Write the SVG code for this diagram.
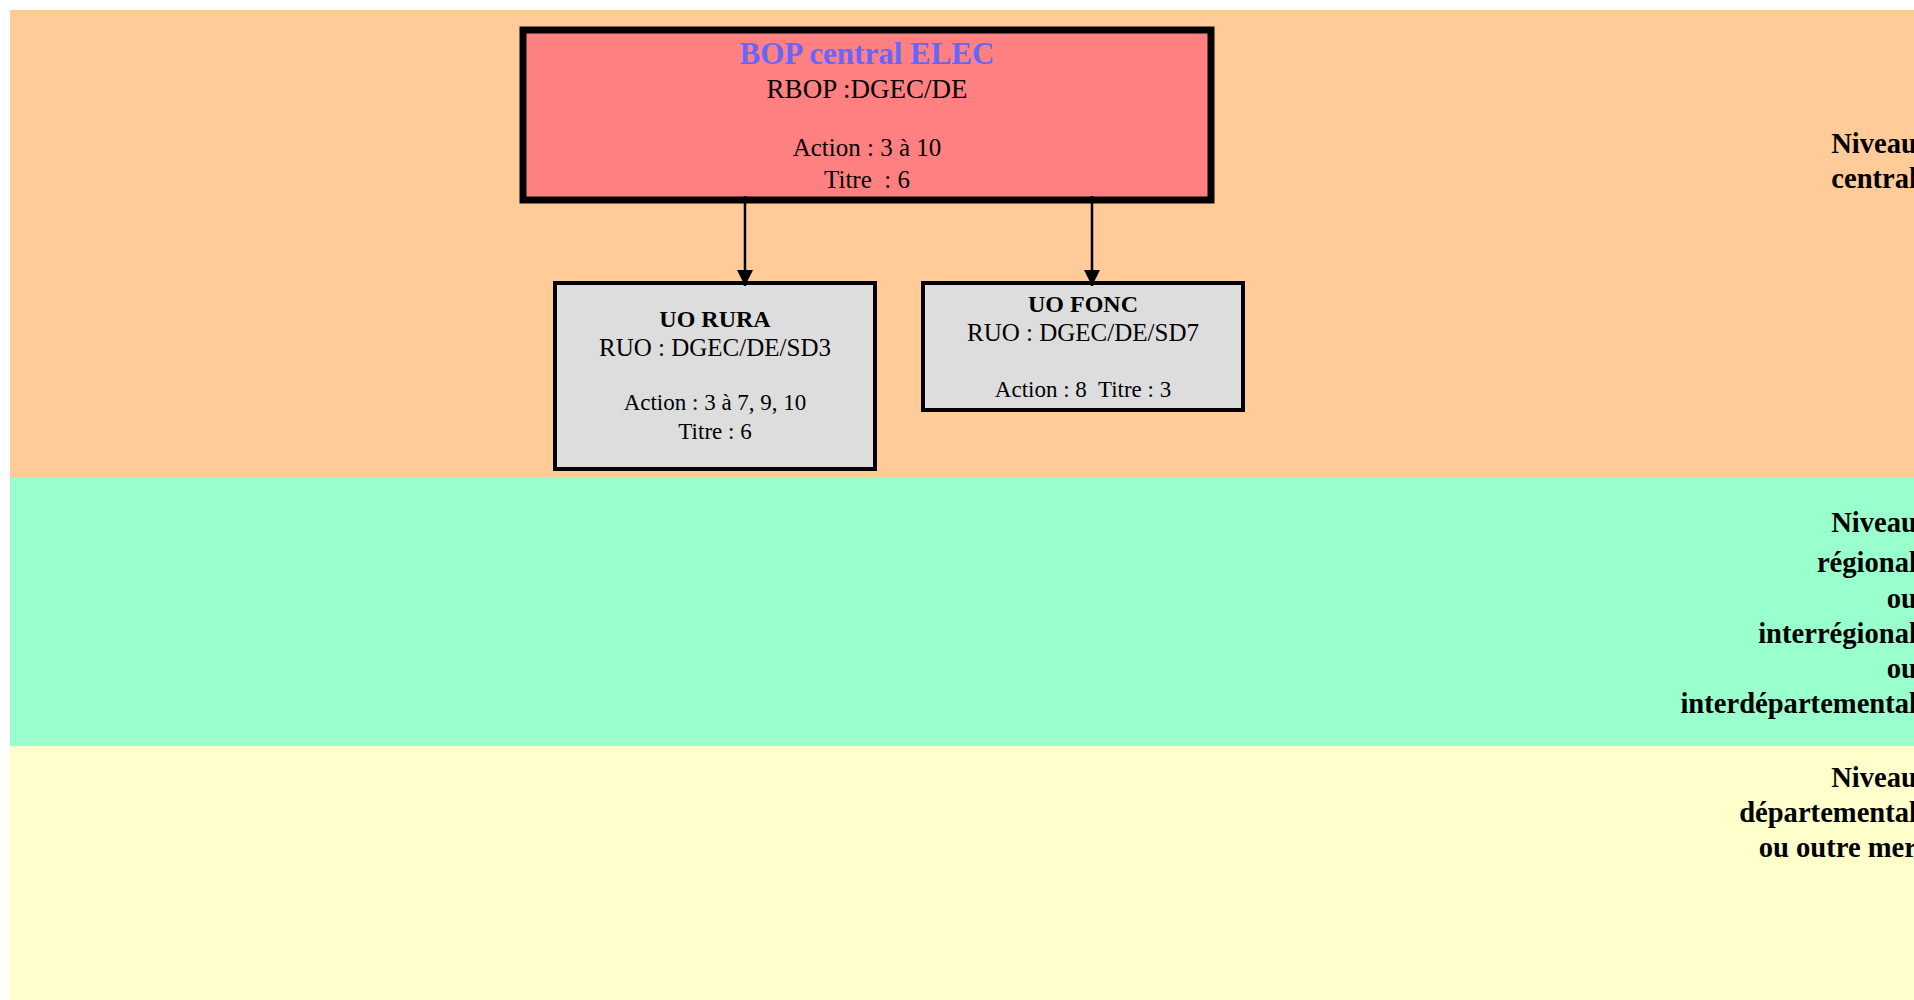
<svg xmlns="http://www.w3.org/2000/svg" width="1914" height="1000" viewBox="0 0 1914 1000">
<style>
  .t { font-family: "Liberation Serif", "Times New Roman", serif; fill: #000; text-anchor: middle; white-space: pre; }
  .b { font-weight: bold; }
  .lvl { font-family: "Liberation Serif", "Times New Roman", serif; font-weight: bold; font-size: 28.6px; fill: #000; text-anchor: end; }
  .box { fill: #DDDDDD; stroke: #000; stroke-width: 4; }
  .conn { stroke: #000; stroke-width: 2.5; fill: none; marker-end: url(#arr); }
</style>
<defs>
  <marker id="arr" viewBox="0 0 10 10" refX="10" refY="5" markerUnits="userSpaceOnUse" markerWidth="16" markerHeight="16" orient="auto">
    <path d="M0,0 L10,5 L0,10 Z" fill="#000"/>
  </marker>
</defs>
<rect width="1914" height="1000" fill="#FFFFFF"/>
<g id="bands">
  <rect x="10" y="10" width="1904" height="468" fill="#FFCC99"/>
  <rect x="10" y="478" width="1904" height="268" fill="#99FFCC"/>
  <rect x="10" y="746" width="1904" height="254" fill="#FFFFCC"/>
</g>
<g id="level-central">
  <text class="lvl" x="1917" y="153">Niveau</text>
  <text class="lvl" x="1917" y="188">central</text>
</g>
<g id="level-regional">
  <text class="lvl" x="1917" y="532">Niveau</text>
  <text class="lvl" x="1917" y="572">régional</text>
  <text class="lvl" x="1917" y="608">ou</text>
  <text class="lvl" x="1917" y="643">interrégional</text>
  <text class="lvl" x="1917" y="678">ou</text>
  <text class="lvl" x="1917" y="713">interdépartemental</text>
</g>
<g id="level-departemental">
  <text class="lvl" x="1917" y="787">Niveau</text>
  <text class="lvl" x="1917" y="822">départemental</text>
  <text class="lvl" x="1917" y="857">ou outre mer</text>
</g>
<g id="bop-central">
  <rect x="523" y="30" width="688" height="170" fill="#FF8080" stroke="#000" stroke-width="7"/>
  <text class="t b" x="867" y="64" font-size="31" style="fill:#6666FF">BOP central ELEC</text>
  <text class="t" x="867" y="98" font-size="27">RBOP :DGEC/DE</text>
  <text class="t" x="867" y="156" font-size="25">Action : 3 à 10</text>
  <text class="t" x="867" y="188" font-size="25">Titre  : 6</text>
</g>
<g id="uo-rura">
  <rect class="box" x="555" y="283" width="320" height="186"/>
  <text class="t b" x="715" y="327" font-size="24">UO RURA</text>
  <text class="t" x="715" y="356" font-size="25">RUO : DGEC/DE/SD3</text>
  <text class="t" x="715" y="410" font-size="23">Action : 3 à 7, 9, 10</text>
  <text class="t" x="715" y="439" font-size="23">Titre : 6</text>
</g>
<g id="uo-fonc">
  <rect class="box" x="923" y="283" width="320" height="127"/>
  <text class="t b" x="1083" y="312" font-size="24">UO FONC</text>
  <text class="t" x="1083" y="341" font-size="25">RUO : DGEC/DE/SD7</text>
  <text class="t" x="1083" y="397" font-size="23">Action : 8  Titre : 3</text>
</g>
<g id="connectors">
  <line class="conn" x1="745" y1="196" x2="745" y2="286"/>
  <line class="conn" x1="1092" y1="196" x2="1092" y2="286"/>
</g>
</svg>
